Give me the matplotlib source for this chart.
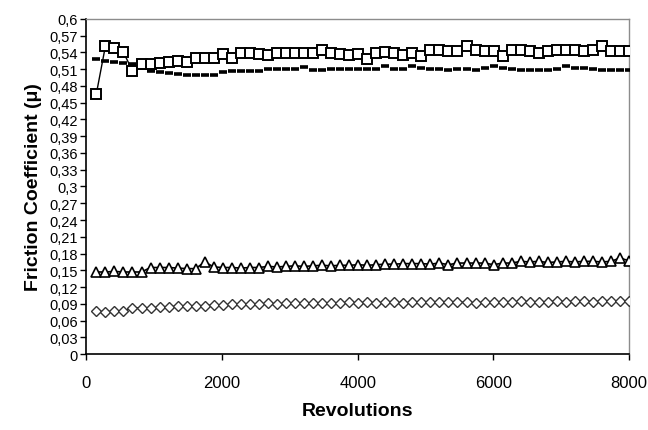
import numpy as np
import matplotlib
matplotlib.use('Agg')
import matplotlib.pyplot as plt
from matplotlib.ticker import FixedLocator, FuncFormatter

plt.rcParams['font.family'] = ['Liberation Sans', 'DejaVu Sans']

# Revolutions (sampling grid, ~133 rev apart)
revolutions = np.arange(150, 8000, 133)

squares = [0.466, 0.551, 0.547, 0.540, 0.507, 0.519, 0.519, 0.521, 0.522, 0.524,
           0.522, 0.530, 0.530, 0.530, 0.537, 0.530, 0.539, 0.539, 0.537, 0.536,
           0.538, 0.538, 0.538, 0.538, 0.538, 0.545, 0.538, 0.537, 0.536, 0.537,
           0.529, 0.538, 0.540, 0.539, 0.535, 0.539, 0.534, 0.545, 0.544, 0.543,
           0.543, 0.552, 0.544, 0.543, 0.543, 0.533, 0.544, 0.545, 0.543, 0.539,
           0.543, 0.545, 0.545, 0.545, 0.543, 0.545, 0.551, 0.543, 0.543, 0.543]

dashes = [0.528, 0.525, 0.523, 0.521, 0.519, 0.512, 0.506, 0.504, 0.503, 0.501,
          0.499, 0.499, 0.499, 0.500, 0.505, 0.506, 0.506, 0.506, 0.507, 0.510,
          0.510, 0.510, 0.511, 0.514, 0.509, 0.509, 0.510, 0.510, 0.510, 0.511,
          0.510, 0.511, 0.515, 0.511, 0.511, 0.515, 0.512, 0.510, 0.510, 0.508,
          0.510, 0.510, 0.509, 0.512, 0.515, 0.512, 0.510, 0.509, 0.509, 0.509,
          0.509, 0.511, 0.516, 0.512, 0.512, 0.511, 0.509, 0.509, 0.509, 0.509]

triangles = [0.147, 0.147, 0.148, 0.147, 0.147, 0.147, 0.155, 0.155, 0.155, 0.154,
             0.153, 0.153, 0.165, 0.156, 0.155, 0.155, 0.154, 0.155, 0.155, 0.157,
             0.156, 0.157, 0.158, 0.157, 0.158, 0.159, 0.158, 0.159, 0.159, 0.160,
             0.159, 0.160, 0.161, 0.161, 0.162, 0.162, 0.162, 0.161, 0.163, 0.160,
             0.163, 0.163, 0.163, 0.163, 0.160, 0.163, 0.163, 0.166, 0.165, 0.166,
             0.164, 0.165, 0.166, 0.165, 0.166, 0.166, 0.165, 0.166, 0.172, 0.167]

diamonds = [0.077, 0.076, 0.077, 0.077, 0.083, 0.083, 0.082, 0.085, 0.085, 0.086,
            0.086, 0.087, 0.087, 0.088, 0.088, 0.089, 0.089, 0.090, 0.090, 0.091,
            0.090, 0.091, 0.091, 0.092, 0.091, 0.092, 0.092, 0.092, 0.093, 0.092,
            0.093, 0.092, 0.093, 0.093, 0.092, 0.093, 0.093, 0.093, 0.093, 0.093,
            0.093, 0.093, 0.092, 0.093, 0.093, 0.093, 0.093, 0.095, 0.094, 0.094,
            0.094, 0.095, 0.094, 0.095, 0.095, 0.094, 0.095, 0.095, 0.095, 0.095]

y_ticks = np.round(np.arange(0, 0.6001, 0.03), 2)
x_ticks = [0, 2000, 4000, 6000, 8000]

fig = plt.figure(figsize=(6.48, 4.31), dpi=100)
ax = fig.add_axes([0.133, 0.176, 0.838, 0.778])

ax.plot(revolutions, dashes, color='black', lw=0, marker='_', ms=6, mew=2.6, zorder=3)
ax.plot(revolutions, squares, color='black', lw=1, marker='s', ms=6.8,
        mfc='white', mec='black', mew=1.4, zorder=4)
ax.plot(revolutions, triangles, color='black', lw=1.2, marker='^', ms=7.6,
        mfc='white', mec='black', mew=1.2, zorder=4)
ax.plot(revolutions, diamonds, color='black', lw=0.8, marker='D', ms=5.0,
        mfc='white', mec='#333333', mew=1.0, zorder=4)

ax.set_xlim(0, 8000)
ax.set_ylim(0, 0.6)
ax.xaxis.set_major_locator(FixedLocator(x_ticks))
ax.yaxis.set_major_locator(FixedLocator(y_ticks))
ax.yaxis.set_major_formatter(FuncFormatter(lambda v, p: ('%g' % round(v, 2)).replace('.', ',')))
ax.tick_params(axis='both', direction='out', length=4, width=1, colors='black', labelsize=12)
ax.tick_params(axis='y', labelsize=10.5, pad=2)
ax.tick_params(axis='x', pad=11)

for side in ['top', 'right']:
    ax.spines[side].set_color('#8c8c8c')
    ax.spines[side].set_linewidth(1)
for side in ['left', 'bottom']:
    ax.spines[side].set_color('black')
    ax.spines[side].set_linewidth(1.2)

ax.set_xlabel('Revolutions', fontsize=14, fontweight='bold', labelpad=9)
ax.set_ylabel('Friction Coefficient (\u03bc)', fontsize=14, fontweight='bold', labelpad=5)

fig.savefig('out.png', dpi=100)
